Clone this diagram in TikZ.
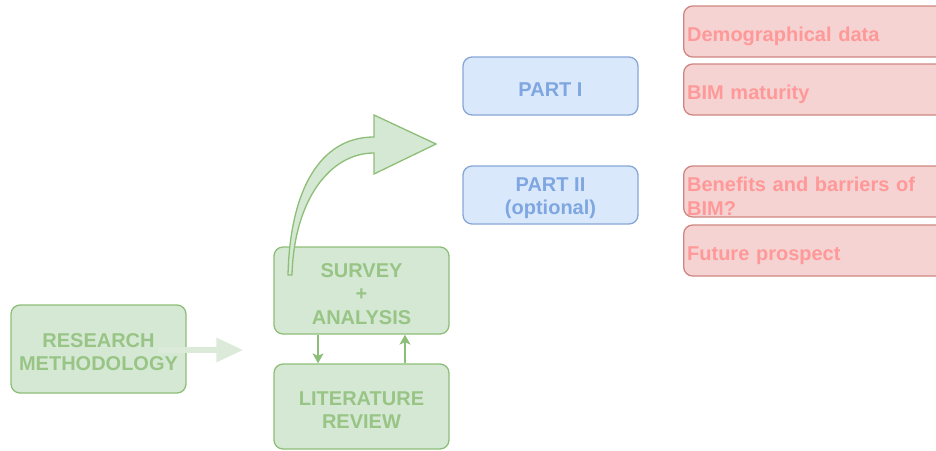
\documentclass[tikz,border=0pt]{standalone}
\usepackage{fontspec}
\setmainfont{Liberation Sans}
\usetikzlibrary{arrows.meta}
\definecolor{gfill}{HTML}{D5E8D4}
\definecolor{gline}{HTML}{8DBE78}
\definecolor{gtext}{HTML}{98C586}
\definecolor{garrow}{HTML}{DCEBD9}
\definecolor{bfill}{HTML}{DAE8FC}
\definecolor{bline}{HTML}{87A6D6}
\definecolor{btext}{HTML}{7EA6E0}
\definecolor{rfill}{HTML}{F4D3D2}
\definecolor{rline}{HTML}{D08581}
\definecolor{rtext}{HTML}{FF9999}
\newcommand\mystrutA{\rule{0pt}{20.5pt}}
\newcommand\mystrutB{\rule{0pt}{23.5pt}}
\begin{document}
\begin{tikzpicture}[x=1pt,y=-1pt,
  basebox/.style={rounded corners=9pt, line width=1.3pt, inner sep=4pt,
    font=\fontsize{20}{23.5}\selectfont\bfseries, align=center},
  gbox/.style={basebox, fill=gfill, draw=gline, text=gtext,
    minimum width=175pt},
  bbox/.style={basebox, fill=bfill, draw=bline, text=btext,
    minimum width=175pt, minimum height=58pt},
  rbox/.style={basebox, fill=rfill, draw=rline, text=rtext, align=left,
    anchor=west, inner xsep=3.5pt, inner ysep=0pt, minimum width=262pt,
    text width=255pt, minimum height=51pt},
  smallarrow/.style={draw=gline, line width=1.3pt,
    -{Stealth[length=10pt,width=11pt,inset=2.5pt]}}
]
\useasboundingbox (0,0) rectangle (936,450);
\clip (0,0) rectangle (936,450);

% left box
\node[gbox, minimum height=88pt] (research) at (98.5,349) {\mystrutA RESEARCH\\METHODOLOGY};
% middle boxes
\node[gbox, minimum height=87pt] (survey) at (361.5,290.5) {\mystrutA SURVEY\\+\\ANALYSIS};
\node[gbox, minimum height=85pt] (lit) at (361.5,406.5) {\mystrutA LITERATURE\\REVIEW};

% big arrow from research to survey
\coordinate (bigstart) at ([xshift=-29pt,yshift=-1pt]research.east);
\coordinate (survw) at ([xshift=-30pt]survey.west);
\coordinate (bigend) at (bigstart -| survw);
\draw[garrow, line width=6pt, -{Triangle[length=27pt,width=23pt]}]
  (bigstart) -- (bigend);

% small arrows
\draw[smallarrow] ([xshift=-43.5pt]survey.south) -- ([xshift=-43.5pt]lit.north);
\draw[smallarrow] ([xshift=43.5pt]lit.north) -- ([xshift=43.5pt]survey.south);

% parts
\node[bbox] (p1) at (550.5,86) {\mystrutA PART I};
\node[bbox] (p2) at (550.5,195) {\mystrutA PART II\\(optional)};

% red boxes
\node[rbox] (demo) at (683,31.5) {\mystrutB Demographical data};
\node[rbox] (bim) at (683,89.5) {\mystrutB BIM maturity};
\node[rbox] (ben) at (683,191.5) {\mystrutB Benefits and barriers of\\BIM?};
\node[rbox] (fut) at (683,250.5) {\mystrutB Future prospect};

% curved block arrow
\draw[fill=gfill, draw=gline, line width=1.3pt, line join=miter]
  (288,275) .. controls (290,190) and (320,137) .. (374,137)
  -- (374,115) -- (436,144) -- (374,174) -- (374,153)
  .. controls (330,153) and (294,200) .. (292,275) -- cycle;
\end{tikzpicture}
\end{document}
